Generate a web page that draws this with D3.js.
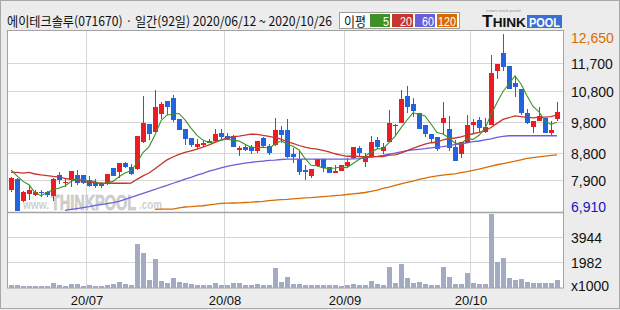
<!DOCTYPE html>
<html>
<head>
<meta charset="utf-8">
<script src="https://cdn.jsdelivr.net/npm/d3@7"></script>
<style>
body{margin:0;background:#ececec;}
svg{display:block;}
text{font-family:"Liberation Sans",Arial,sans-serif;}
.kr{font-family:"Noto Sans CJK KR","Noto Sans",sans-serif;}
.nar{font-family:"Liberation Sans Narrow","Liberation Sans",Arial,sans-serif;}
</style>
</head>
<body>
<svg id="chart" width="620" height="310"></svg>
<script>
// trading days 2020/06/12 ~ 2020/10/26 (92)
var dates = [
 "20/06/12","20/06/15","20/06/16","20/06/17","20/06/18","20/06/19","20/06/22","20/06/23","20/06/24","20/06/25","20/06/26","20/06/29","20/06/30",
 "20/07/01","20/07/02","20/07/03","20/07/06","20/07/07","20/07/08","20/07/09","20/07/10","20/07/13","20/07/14","20/07/15","20/07/16","20/07/17",
 "20/07/20","20/07/21","20/07/22","20/07/23","20/07/24","20/07/27","20/07/28","20/07/29","20/07/30","20/07/31",
 "20/08/03","20/08/04","20/08/05","20/08/06","20/08/07","20/08/10","20/08/11","20/08/12","20/08/13","20/08/14","20/08/18","20/08/19","20/08/20",
 "20/08/21","20/08/24","20/08/25","20/08/26","20/08/27","20/08/28","20/08/31",
 "20/09/01","20/09/02","20/09/03","20/09/04","20/09/07","20/09/08","20/09/09","20/09/10","20/09/11","20/09/14","20/09/15","20/09/16","20/09/17",
 "20/09/18","20/09/21","20/09/22","20/09/23","20/09/24","20/09/25","20/09/28","20/09/29",
 "20/10/05","20/10/06","20/10/07","20/10/08","20/10/12","20/10/13","20/10/14","20/10/15","20/10/16","20/10/19","20/10/20","20/10/21","20/10/22",
 "20/10/23","20/10/26"];

var open = [7600,7950,7220,7470,7440,7540,7530,7410,8080,7810,
 7900,8080,8070,7900,7860,7820,7790,8320,8160,8480,
 8350,8270,9150,9730,9480,10060,10490,10570,9900,9570,
 9290,8980,9050,9180,9180,9430,9350,9350,8890,9000,
 9000,8870,9270,9020,9050,9540,9540,8760,8590,8240,
 8030,8370,8590,8350,8140,8220,8370,8620,8950,8510,
 8660,9220,8840,9160,9670,9780,10640,10380,10100,9700,
 9410,9300,9780,9560,9000,8760,9130,9700,9860,9480,
 9700,11460,12020,11610,11070,10860,10080,9650,9840,9920,
 9450,9890];
var high = [8020,7980,7560,7760,7600,7600,7570,7970,8160,7970,
 8210,8240,8080,8030,7940,7860,8100,8320,8480,8500,
 8420,9350,10640,9730,10840,10460,10490,10670,9900,9570,
 9290,9240,9190,9240,9560,9570,9440,9380,9020,9080,
 9050,9180,9300,9090,9920,9670,9890,8950,8840,8410,
 8270,8590,8590,8350,8410,8410,8620,8980,9020,8800,
 9350,9300,9110,10190,9730,10840,10970,10570,10100,9700,
 9410,9300,10460,9990,9220,9160,10030,9890,9950,9920,
 11970,11680,12650,11610,11270,10860,10210,9840,10280,9920,
 9840,10460];
var low = [7530,6910,7210,7270,7410,7380,7380,7250,7790,7700,
 7700,7760,7790,7700,7650,7650,7760,8060,7970,8300,
 8080,8240,9110,9220,9480,9890,10030,9810,9540,9050,
 9000,8920,8980,9110,9160,9240,9220,8970,8700,8870,
 8760,8800,8980,8730,9020,9110,8620,8460,8080,7920,
 7970,8350,8190,8140,8140,8220,8350,8590,8670,8350,
 8620,8910,8760,9160,9380,9780,10100,9950,9560,9320,
 9160,8870,9410,8870,8540,8620,9130,9430,9430,9450,
 9700,11180,11460,10860,10620,10030,9730,9450,9840,9430,
 9350,9840];
var close = [7990,6910,7510,7600,7530,7490,7420,7950,7900,7860,
 8210,7830,7830,7730,7730,7730,8100,8060,8480,8330,
 8110,9350,9760,9410,10290,10380,10290,9860,9540,9260,
 9050,9090,9110,9110,9410,9300,9250,8970,8950,8890,
 8840,9180,9020,8800,9540,9380,8670,8670,8190,8160,
 8270,8590,8300,8140,8220,8410,8510,8980,8780,8700,
 9160,9000,9000,9780,9700,10540,10290,10160,9560,9410,
 9240,8910,9920,8950,8540,9160,9700,9810,9610,9650,
 11400,11680,11590,10860,10920,10100,9780,9840,9990,9430,
 9540,10130];
// volume, x1000
var volume = [210,210,130,130,130,130,130,390,210,130,
 310,310,160,210,160,160,230,310,470,310,
 210,3430,2730,600,2240,550,390,750,470,360,
 290,210,210,210,360,210,210,360,360,230,
 230,290,230,230,1530,440,830,290,290,210,
 210,210,210,210,210,130,210,290,210,210,
 520,290,210,1610,360,1850,780,390,440,310,
 210,210,1610,830,310,310,1140,360,310,310,
 5750,2000,2310,780,650,730,470,390,390,390,
 360,620];

// moving averages: the first days (before a full window)
var ma5Start = [8240,8050,7870,7760];
var ma20Start = [8160,8160,8140,8160,8110,8080,8060,8030,8010,7970,7940,7920,7860,7850,7830,7810,7810,7810,7810];
var ma60 = [null,null,null,null,null,null,null,null,null,6930,
 6960,6990,7020,7050,7090,7120,7150,7180,7220,7290,
 7350,7420,7480,7550,7610,7680,7740,7810,7870,7940,
 8000,8070,8130,8200,8250,8310,8360,8400,8430,8460,
 8490,8510,8530,8550,8560,8580,8590,8590,8590,8590,
 8590,8590,8590,8590,8590,8590,8590,8600,8610,8630,
 8660,8680,8710,8750,8790,8830,8870,8890,8910,8930,
 8960,8980,9000,9030,9060,9090,9120,9160,9180,9220,
 9250,9300,9330,9350,9350,9350,9350,9350,9350,9350,
 9350,9350];
var ma120 = [null,null,null,null,null,null,null,null,null,null,
 null,null,null,null,null,null,null,null,null,null,
 null,null,null,null,6960,6970,6970,6970,7010,7040,
 7050,7070,7080,7110,7130,7160,7165,7170,7175,7185,
 7195,7210,7225,7245,7265,7280,7290,7305,7320,7335,
 7345,7360,7375,7390,7410,7425,7445,7465,7485,7510,
 7545,7590,7640,7685,7740,7790,7835,7880,7935,7975,
 8020,8050,8075,8100,8115,8155,8190,8230,8265,8315,
 8365,8410,8450,8490,8525,8565,8615,8640,8665,8690,
 8715,8730];

var priceTicks = [11700,10800,9800,8800,7900];
var priceMax = 12650, priceMin = 6910;
var volTicks = [3944,1982];
var maLabels = ["5","20","60","120"];
var maColors = ["#3d9128","#c4372c","#6a5fd9","#d96c00"];
var title = "에이테크솔루(071670) · 일간(92일) 2020/06/12 ~ 2020/10/26";

var svg = d3.select("#chart");
var plotL = 7, plotR = 563, plotT = 31, priceB = 212, volB = 288;

var x = d3.scaleBand().domain(dates).range([8, 560]);
var y = d3.scaleLinear().domain([priceMin, priceMax]).range([211, 34]);
var yv = d3.scaleLinear().domain([0, 5900]).range([volB, priceB]);
var cx = function(i){ return x(dates[i]) + x.bandwidth()/2; };

function movAvg(n, start){
  return close.map(function(c,i){
    if(i < n-1) return start[i];
    return d3.mean(close.slice(i-n+1, i+1));
  });
}
var ma5 = movAvg(5, ma5Start);
var ma20 = movAvg(20, ma20Start);

// squeeze a text horizontally into a given width
function fit(t, px, py, w){
  var n = t.node().getComputedTextLength();
  t.attr("transform","translate("+px+","+py+") scale("+(w/n)+",1)");
  return t;
}

// frame
svg.append("rect").attr("x",0.5).attr("y",0.5).attr("width",619).attr("height",308)
  .attr("fill","#ececec").attr("stroke","#a9a9a9");
svg.append("rect").attr("x",plotL+0.5).attr("y",plotT-0.5).attr("width",plotR-plotL).attr("height",volB-plotT+0.5)
  .attr("fill","#fff").attr("stroke","#a3a3a3");

svg.append("clipPath").attr("id","pclip").append("rect")
  .attr("x",plotL+1).attr("y",plotT).attr("width",plotR-plotL-1).attr("height",priceB-plotT);

// grid
var grid = svg.append("g").attr("stroke","#d6d6d6").attr("shape-rendering","crispEdges");
grid.selectAll(".hp").data(priceTicks).enter().append("line")
  .attr("x1",plotL+1).attr("x2",plotR).attr("y1",function(d){return Math.round(y(d))+0.5;}).attr("y2",function(d){return Math.round(y(d))+0.5;});
grid.selectAll(".hv").data(volTicks).enter().append("line")
  .attr("x1",plotL+1).attr("x2",plotR).attr("y1",function(d){return Math.round(yv(d))+0.5;}).attr("y2",function(d){return Math.round(yv(d))+0.5;});
var monthIdx = [];
dates.forEach(function(d,i){ if(i>0 && d.slice(3,5)!=dates[i-1].slice(3,5)) monthIdx.push(i); });
grid.selectAll(".vm").data(monthIdx).enter().append("line")
  .attr("x1",function(i){return x(dates[i])+0.5;}).attr("x2",function(i){return x(dates[i])+0.5;})
  .attr("y1",plotT).attr("y2",volB);
svg.append("line").attr("x1",plotL).attr("x2",plotR).attr("y1",priceB+0.5).attr("y2",priceB+0.5)
  .attr("stroke","#a3a3a3").attr("stroke-width",1.5);

// watermark
var wm = svg.append("g").attr("fill","#d0d0d0").attr("font-weight","bold");
fit(wm.append("text").attr("font-size",12).text("www."), 23, 209, 26);
fit(wm.append("text").attr("font-size",22).attr("stroke","#c2c2c2").attr("stroke-width",0.6).text("THINKPOOL"), 51, 210, 85);
fit(wm.append("text").attr("font-size",12).text(".com"), 139, 209, 23);

var pg = svg.append("g").attr("clip-path","url(#pclip)");

// candles
var cg = pg.append("g").attr("shape-rendering","crispEdges");
var idx = d3.range(dates.length);
var col = function(i){ return close[i] >= open[i] ? "#ec1c24" : "#2264dd"; };
cg.selectAll(".wick").data(idx).enter().append("rect")
  .attr("x",function(i){return cx(i)-0.5;}).attr("width",1)
  .attr("y",function(i){return y(high[i]);})
  .attr("height",function(i){return Math.max(1, y(low[i])-y(high[i]));})
  .attr("fill",col);
cg.selectAll(".body").data(idx).enter().append("rect")
  .attr("x",function(i){return cx(i)-2.5;}).attr("width",5)
  .attr("y",function(i){return y(Math.max(open[i],close[i]));})
  .attr("height",function(i){return Math.max(1.5, Math.abs(y(open[i])-y(close[i])));})
  .attr("fill",col);

// moving average lines
var line = d3.line().defined(function(d){return d!=null;})
  .x(function(d,i){return cx(i);}).y(function(d){return y(d);});
[ma120, ma60, ma20, ma5].forEach(function(s,k){
  pg.append("path").attr("d",line(s)).attr("fill","none")
    .attr("stroke",maColors[3-k]).attr("stroke-width",k==3 ? 1.1 : 1.3);
});

// volume bars
svg.append("g").attr("shape-rendering","crispEdges").selectAll("rect").data(idx).enter().append("rect")
  .attr("x",function(i){return cx(i)-2.5;}).attr("width",5)
  .attr("y",function(i){return yv(volume[i]);})
  .attr("height",function(i){return volB-yv(volume[i]);})
  .attr("fill","#a2abc1");

// right axis
var yAxis = d3.axisRight(y).tickValues(priceTicks).tickSize(0).tickPadding(0).tickFormat(d3.format(","));
var ya = svg.append("g").attr("transform","translate(571,1)").call(yAxis);
ya.select(".domain").remove();
ya.selectAll("text").attr("class","nar").attr("font-size",14).attr("fill","#111").attr("text-anchor","start");
svg.append("text").attr("class","nar").attr("x",571).attr("y",43).attr("font-size",14).attr("fill","#d96c00").text(d3.format(",")(priceMax));
svg.append("text").attr("class","nar").attr("x",571).attr("y",212).attr("font-size",14).attr("fill","#1414c8").text(d3.format(",")(priceMin));

var vAxis = d3.axisRight(yv).tickValues(volTicks).tickSize(0).tickPadding(0).tickFormat(d3.format("d"));
var va = svg.append("g").attr("transform","translate(571,1)").call(vAxis);
va.select(".domain").remove();
va.selectAll("text").attr("class","nar").attr("font-size",14).attr("fill","#111").attr("text-anchor","start");
svg.append("text").attr("class","nar").attr("x",571).attr("y",291).attr("font-size",14).attr("fill","#111").text("x1000");

// x axis labels
svg.selectAll(".xl").data(monthIdx).enter().append("text")
  .attr("x",function(i){return x(dates[i])+1;}).attr("y",305)
  .attr("text-anchor","middle").attr("font-size",13).attr("fill","#111")
  .text(function(i){return dates[i].slice(0,5);});

// title
fit(svg.append("text").attr("class","kr").attr("font-size",13).attr("fill","#111").text(title), 7, 26, 325);

// legend
var lg = svg.append("g");
lg.append("rect").attr("x",339.5).attr("y",12.5).attr("width",120).attr("height",16).attr("fill","#fff").attr("stroke","#9c9c9c");
fit(lg.append("text").attr("class","kr").attr("font-size",13).attr("fill","#111").text("이평"), 344, 25.5, 22);
var lx = [370,392,415,437], lw = [20,21,20,20], tw = [6,12,12,18];
maLabels.forEach(function(t,k){
  lg.append("rect").attr("x",lx[k]).attr("y",14).attr("width",lw[k]).attr("height",13).attr("fill",maColors[k]);
  fit(lg.append("text").attr("class","nar").attr("font-size",13.5).attr("fill","#fff").text(t),
    lx[k]+lw[k]-1-tw[k], 25.5, tw[k]);
});

// logo
var logo = svg.append("g").attr("font-weight","bold");
logo.append("text").attr("x",486).attr("y",12).attr("font-size",4).attr("fill","#aaa").text("smart stock portal");
var lt = logo.append("text").attr("fill","#111");
lt.append("tspan").attr("font-size",16).text("T");
lt.append("tspan").attr("font-size",12.5).text("HINK");
fit(lt, 482, 27, 44);
logo.append("rect").attr("x",527).attr("y",15).attr("width",35).attr("height",13).attr("fill","#3b6fd8");
fit(logo.append("text").attr("font-size",13.5).attr("fill","#fff").text("POOL"), 529, 27, 31);
</script>
</body>
</html>
